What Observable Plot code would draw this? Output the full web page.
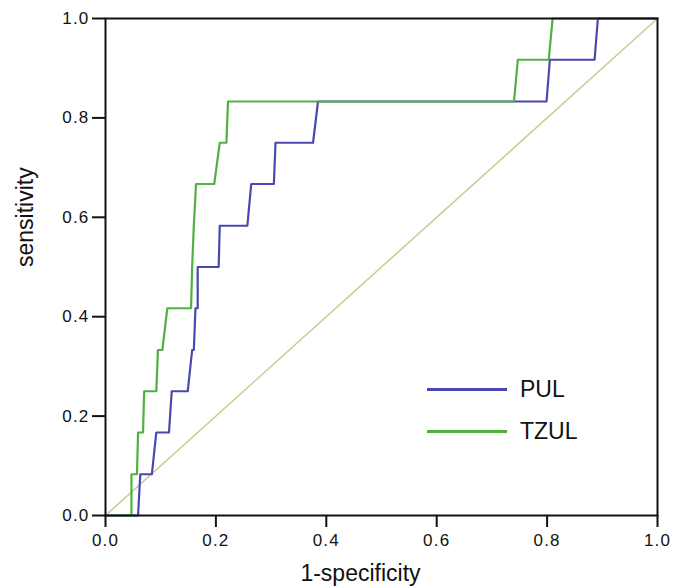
<!DOCTYPE html>
<html>
<head>
<meta charset="utf-8">
<script src="https://cdn.jsdelivr.net/npm/d3@7"></script>
<script src="https://cdn.jsdelivr.net/npm/@observablehq/plot@0.6"></script>
<style>
  html, body { margin: 0; padding: 0; background: #fff; }
  #wrap { position: relative; width: 683px; height: 588px; }
  .leg { position: absolute; left: 0; top: 0; width: 683px; height: 588px; pointer-events: none;
         font-family: "Liberation Sans", Arial, sans-serif; font-size: 23px; color: #111; }
  .leg .row { position: absolute; display: flex; align-items: center; }
  .leg .sw { width: 80px; height: 3px; margin-right: 13px; }
</style>
</head>
<body>
<div id="wrap"></div>
<script>
// PUL curve vertices (1-specificity, sensitivity)
const pulX = [0, 0.059, 0.063, 0.084, 0.092, 0.115, 0.120, 0.149, 0.157, 0.160, 0.163, 0.167, 0.167, 0.205, 0.207, 0.257, 0.264, 0.305, 0.308, 0.376, 0.385, 0.799, 0.805, 0.886, 0.892, 1];
const pulY = [0, 0, 0.083, 0.083, 0.167, 0.167, 0.25, 0.25, 0.333, 0.333, 0.417, 0.417, 0.5, 0.5, 0.583, 0.583, 0.667, 0.667, 0.75, 0.75, 0.833, 0.833, 0.917, 0.917, 1, 1];
// TZUL curve vertices
const tzulX = [0, 0.047, 0.047, 0.057, 0.059, 0.068, 0.070, 0.092, 0.095, 0.103, 0.112, 0.155, 0.157, 0.160, 0.164, 0.197, 0.207, 0.219, 0.222, 0.740, 0.747, 0.803, 0.810, 1];
const tzulY = [0, 0, 0.083, 0.083, 0.167, 0.167, 0.25, 0.25, 0.333, 0.333, 0.417, 0.417, 0.5, 0.583, 0.667, 0.667, 0.75, 0.75, 0.833, 0.833, 0.917, 0.917, 1, 1];
// reference diagonal
const refX = [0, 1];
const refY = [0, 1];
const ticks = [0, 0.2, 0.4, 0.6, 0.8, 1.0];
const seriesNames = ["PUL", "TZUL"];
const seriesColors = ["#4848b0", "#52b043"];
const xTitle = "1-specificity";
const yTitle = "sensitivity";

const pul = pulX.map((x, i) => ({x, y: pulY[i]}));
const tzul = tzulX.map((x, i) => ({x, y: tzulY[i]}));
const ref = refX.map((x, i) => ({x, y: refY[i]}));

const font = "'Liberation Sans', Arial, sans-serif";

const chart = Plot.plot({
  width: 683,
  height: 588,
  marginLeft: 105,
  marginRight: 26,
  marginTop: 18,
  marginBottom: 73,
  style: {fontFamily: font, background: "#fff", overflow: "visible"},
  x: {domain: [0, 1]},
  y: {domain: [0, 1]},
  marks: [
    Plot.line(ref, {x: "x", y: "y", stroke: "#cdcd98", strokeWidth: 1.6}),
    Plot.line(pul, {x: "x", y: "y", stroke: seriesColors[0], strokeWidth: 2.2}),
    Plot.line(tzul, {x: "x", y: "y", stroke: seriesColors[1], strokeWidth: 2.2}),
    Plot.frame({stroke: "#111", strokeWidth: 2}),
    Plot.axisX({ticks, tickSize: 12, tickPadding: 6, strokeWidth: 2, stroke: "#111",
      tickFormat: d => d.toFixed(1), fontSize: 17, fill: "#111", label: null}),
    Plot.axisY({ticks, tickSize: 13, tickPadding: 3, strokeWidth: 2, stroke: "#111",
      tickFormat: d => d.toFixed(1), fontSize: 17, fill: "#111", label: null}),
    Plot.text([xTitle], {frameAnchor: "bottom", dy: 58, dx: -21, fontSize: 23, fill: "#111", lineAnchor: "middle"}),
    Plot.text([yTitle], {frameAnchor: "left", dx: -80, rotate: -90, fontSize: 23, fill: "#111", lineAnchor: "middle"})
  ]
});
chart.querySelectorAll("g[aria-label='x-axis tick label'] text, g[aria-label='y-axis tick label'] text")
  .forEach(t => t.setAttribute("letter-spacing", "1.2"));
const wrap = document.getElementById("wrap");
wrap.appendChild(chart);

const leg = document.createElement("div");
leg.className = "leg";
const legTops = [389, 431];
seriesNames.forEach((name, i) => {
  const row = document.createElement("div");
  row.className = "row";
  row.style.left = "427px";
  row.style.top = (legTops[i] - 14) + "px";
  row.style.height = "28px";
  const sw = document.createElement("div");
  sw.className = "sw";
  sw.style.background = seriesColors[i];
  row.appendChild(sw);
  const t = document.createElement("span");
  t.textContent = name;
  row.appendChild(t);
  leg.appendChild(row);
});
wrap.appendChild(leg);
</script>
</body>
</html>
